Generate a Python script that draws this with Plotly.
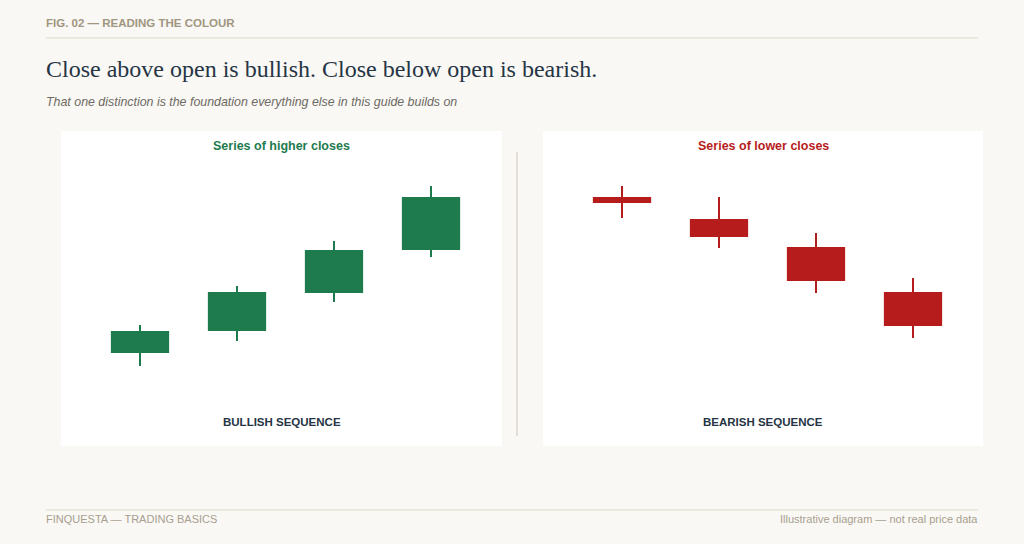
import plotly.graph_objects as go

W, H = 1024, 544

# ---- data ----
sessions = [0, 1, 2, 3]
bull_open = [72.0, 77.5, 87.0, 97.75]
bull_close = [77.0, 86.75, 97.25, 110.5]
bull_high = [78.75, 88.5, 99.75, 113.5]
bull_low = [68.5, 74.75, 84.5, 95.75]

bear_open = [110.5, 105.0, 98.0, 86.75]
bear_close = [109.5, 101.0, 90.0, 78.75]
bear_high = [113.5, 110.75, 101.75, 90.5]
bear_low = [105.5, 98.0, 86.75, 75.5]

panel_titles = ["Series of higher closes", "Series of lower closes"]
panel_labels = ["BULLISH SEQUENCE", "BEARISH SEQUENCE"]

GREEN = "#1e7b4e"
RED = "#b71c1c"
BG = "#f9f8f4"
DARK = "#263545"
TAUPE = "#a0967f"
RULE = "#ddd8cc"
SANS = "Liberation Sans, Arial, sans-serif"
SERIF = "Liberation Serif, Times New Roman, serif"


def px(x):
    return x / W


def py(y):
    return 1 - y / H


fig = go.Figure()
fig.add_trace(go.Candlestick(
    x=sessions, open=bull_open, high=bull_high, low=bull_low, close=bull_close,
    xaxis="x", yaxis="y",
    increasing=dict(line=dict(color=GREEN, width=2), fillcolor=GREEN),
    decreasing=dict(line=dict(color=RED, width=2), fillcolor=RED),
    whiskerwidth=0, showlegend=False, hoverinfo="skip",
))
fig.add_trace(go.Candlestick(
    x=sessions, open=bear_open, high=bear_high, low=bear_low, close=bear_close,
    xaxis="x2", yaxis="y2",
    increasing=dict(line=dict(color=GREEN, width=2), fillcolor=GREEN),
    decreasing=dict(line=dict(color=RED, width=2), fillcolor=RED),
    whiskerwidth=0, showlegend=False, hoverinfo="skip",
))

ax_common = dict(visible=False, fixedrange=True, rangeslider=dict(visible=False))
yax_common = dict(visible=False, fixedrange=True, range=[60, 120])
ydom = [py(400), py(160)]

shapes = [
    # header / footer rules
    dict(type="line", xref="paper", yref="paper", x0=px(46), x1=px(978), y0=py(38), y1=py(38),
         line=dict(color=RULE, width=1.2)),
    dict(type="line", xref="paper", yref="paper", x0=px(46), x1=px(978), y0=py(510), y1=py(510),
         line=dict(color=RULE, width=1.2)),
    # panels
    dict(type="rect", xref="paper", yref="paper", x0=px(61), x1=px(502), y0=py(446), y1=py(131),
         fillcolor="white", line=dict(width=0), layer="below"),
    dict(type="rect", xref="paper", yref="paper", x0=px(543), x1=px(983), y0=py(446), y1=py(131),
         fillcolor="white", line=dict(width=0), layer="below"),
    # divider
    dict(type="line", xref="paper", yref="paper", x0=px(517), x1=px(517), y0=py(152), y1=py(436),
         line=dict(color="#d6cfc2", width=1.2)),
]

annotations = [
    dict(text="<b>FIG. 02 — READING THE COLOUR</b>", x=px(44), y=py(23), xanchor="left", yanchor="middle",
         font=dict(family=SANS, size=11.5, color=TAUPE)),
    dict(text="Close above open is bullish. Close below open is bearish.", x=px(44), y=py(69),
         xanchor="left", yanchor="middle", font=dict(family=SERIF, size=24, color=DARK)),
    dict(text="<i>That one distinction is the foundation everything else in this guide builds on</i>",
         x=px(44), y=py(102), xanchor="left", yanchor="middle",
         font=dict(family=SANS, size=12.4, color="#6e6a64")),
    dict(text="<b>" + panel_titles[0] + "</b>", x=px(281.5), y=py(146), xanchor="center", yanchor="middle",
         font=dict(family=SANS, size=12.5, color=GREEN)),
    dict(text="<b>" + panel_labels[0] + "</b>", x=px(281.5), y=py(422), xanchor="center", yanchor="middle",
         font=dict(family=SANS, size=11.5, color=DARK)),
    dict(text="<b>" + panel_titles[1] + "</b>", x=px(763), y=py(146), xanchor="center", yanchor="middle",
         font=dict(family=SANS, size=12.5, color=RED)),
    dict(text="<b>" + panel_labels[1] + "</b>", x=px(763), y=py(422), xanchor="center", yanchor="middle",
         font=dict(family=SANS, size=11.5, color=DARK)),
    dict(text="FINQUESTA — TRADING BASICS", x=px(44), y=py(519), xanchor="left", yanchor="middle",
         font=dict(family=SANS, size=11, color="#a89f90")),
    dict(text="Illustrative diagram — not real price data", x=px(980), y=py(519), xanchor="right",
         yanchor="middle", font=dict(family=SANS, size=11, color="#a89f90")),
]
for a in annotations:
    a.update(xref="paper", yref="paper", showarrow=False)

fig.update_layout(
    width=W, height=H, margin=dict(l=0, r=0, t=0, b=0),
    paper_bgcolor=BG, plot_bgcolor="rgba(0,0,0,0)",
    boxgap=0.42, boxgroupgap=0,
    xaxis=dict(domain=[px(91.5), px(479.5)], range=[-0.5, 3.5], anchor="y", **ax_common),
    xaxis2=dict(domain=[px(573.5), px(961.5)], range=[-0.5, 3.5], anchor="y2", **ax_common),
    yaxis=dict(domain=ydom, anchor="x", **yax_common),
    yaxis2=dict(domain=ydom, anchor="x2", **yax_common),
    shapes=shapes, annotations=annotations,
    hovermode=False,
)

fig.write_html("out.html", config=dict(displayModeBar=False))
